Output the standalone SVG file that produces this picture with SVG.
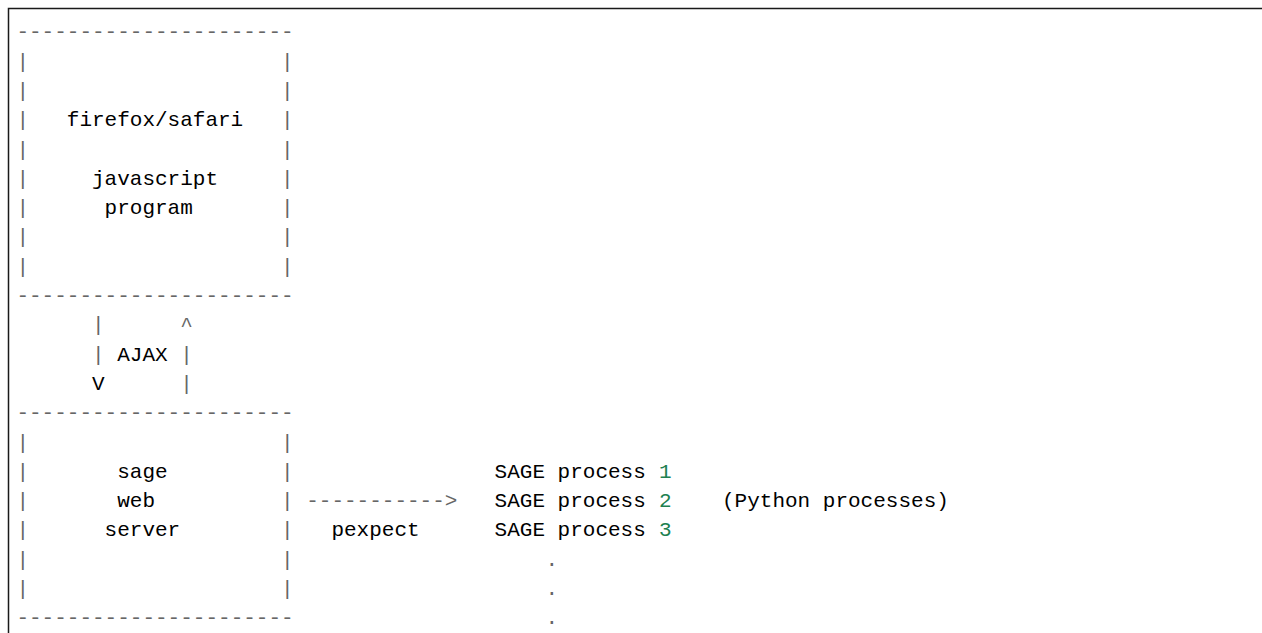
<svg xmlns="http://www.w3.org/2000/svg" width="1262" height="633" viewBox="0 0 1262 633">
<style>
text{font-family:"Liberation Mono","DejaVu Sans Mono",monospace;font-size:21px;fill:#000;white-space:pre}
.o{fill:#666666}
.n{fill:#208050}
.frame{fill:none;stroke:#1a1a1a;stroke-width:1.5}
</style>
<rect width="1262" height="633" fill="#ffffff"/>
<path class="frame" d="M8.5,633 V8.5 H1262"/>
<g id="browser">
<text class="o" x="16.4" y="38.3">----------------------</text>
<text class="o" x="16.4" y="67.6">|</text><text class="o" x="281" y="67.6">|</text>
<text class="o" x="16.4" y="96.9">|</text><text class="o" x="281" y="96.9">|</text>
<text class="o" x="16.4" y="126.2">|</text><text x="66.8" y="126.2">firefox/safari</text><text class="o" x="281" y="126.2">|</text>
<text class="o" x="16.4" y="155.5">|</text><text class="o" x="281" y="155.5">|</text>
<text class="o" x="16.4" y="184.8">|</text><text x="92" y="184.8">javascript</text><text class="o" x="281" y="184.8">|</text>
<text class="o" x="16.4" y="214.1">|</text><text x="104.6" y="214.1">program</text><text class="o" x="281" y="214.1">|</text>
<text class="o" x="16.4" y="243.4">|</text><text class="o" x="281" y="243.4">|</text>
<text class="o" x="16.4" y="272.7">|</text><text class="o" x="281" y="272.7">|</text>
<text class="o" x="16.4" y="302">----------------------</text>
</g>
<g id="connectors">
<text class="o" x="92" y="331.3">|</text><text class="o" x="180.2" y="331.3">^</text>
<text class="o" x="92" y="360.6">|</text><text x="117.2" y="360.6">AJAX</text><text class="o" x="180.2" y="360.6">|</text>
<text x="92" y="389.9">V</text><text class="o" x="180.2" y="389.9">|</text>
<text class="o" x="306.2" y="507.1">-----------&gt;</text>
<text x="331.4" y="536.4">pexpect</text>
</g>
<g id="server">
<text class="o" x="16.4" y="419.2">----------------------</text>
<text class="o" x="16.4" y="448.5">|</text><text class="o" x="281" y="448.5">|</text>
<text class="o" x="16.4" y="477.8">|</text><text x="117.2" y="477.8">sage</text><text class="o" x="281" y="477.8">|</text>
<text class="o" x="16.4" y="507.1">|</text><text x="117.2" y="507.1">web</text><text class="o" x="281" y="507.1">|</text>
<text class="o" x="16.4" y="536.4">|</text><text x="104.6" y="536.4">server</text><text class="o" x="281" y="536.4">|</text>
<text class="o" x="16.4" y="565.7">|</text><text class="o" x="281" y="565.7">|</text>
<text class="o" x="16.4" y="595">|</text><text class="o" x="281" y="595">|</text>
<text class="o" x="16.4" y="624.3">----------------------</text>
</g>
<g id="processes">
<text x="494.6" y="477.8">SAGE process</text><text class="n" x="659" y="477.8">1</text>
<text x="494.6" y="507.1">SAGE process</text><text class="n" x="659" y="507.1">2</text>
<text x="722" y="507.1">(Python processes)</text>
<text x="494.6" y="536.4">SAGE process</text><text class="n" x="659" y="536.4">3</text>
<text class="o" x="545.6" y="565.7">.</text>
<text class="o" x="545.6" y="595">.</text>
<text class="o" x="545.6" y="624.3">.</text>
</g>
</svg>
